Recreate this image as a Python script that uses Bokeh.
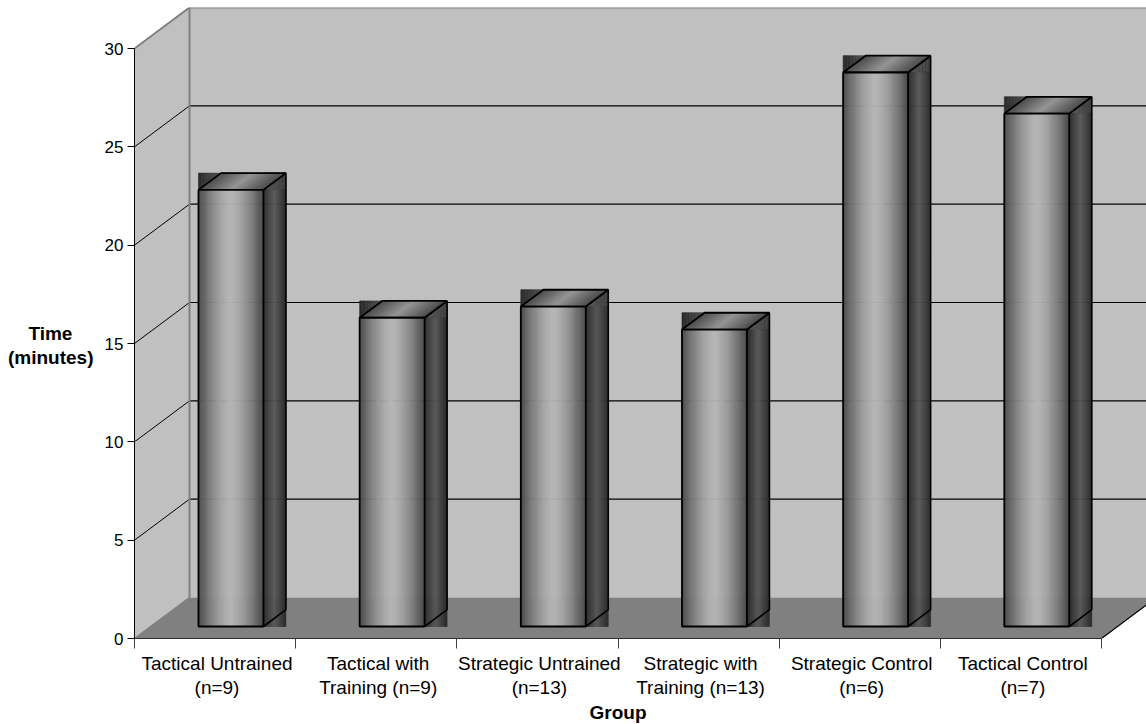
from bokeh.plotting import figure
from bokeh.models import Range1d, LinearAxis, FixedTicker
from bokeh.embed import file_html
from bokeh.resources import INLINE

# ---- data ----
groups_line1 = ["Tactical Untrained", "Tactical with", "Strategic Untrained", "Strategic with", "Strategic Control", "Tactical Control"]
groups_line2 = ["(n=9)", "Training (n=9)", "(n=13)", "Training (n=13)", "(n=6)", "(n=7)"]
times = [22.2, 15.7, 16.27, 15.1, 28.17, 26.08]
y_ticks = [0, 5, 10, 15, 20, 25, 30]

# ---- projection ----
N = len(times)
YMAX = 30
WALL_DX, WALL_DY = 0.3413, 2.085     # depth of the box in data units
BAR_W = 0.403
BAR_DX, BAR_DY = 0.1396, 0.854       # depth of a bar
OFF_X, OFF_Y = 0.397, 0.61           # front-left-bottom of bar in its slot
STRIPS = 60

FONT = "Liberation Sans"
FRAME_LEFT, FRAME_TOP, FRAME_W, FRAME_H = 134, 7, 1012, 631

p = figure(frame_width=FRAME_W, frame_height=FRAME_H, output_backend="svg", toolbar_location=None,
           x_range=Range1d(0, 6 * FRAME_W / 967), y_range=Range1d(0, YMAX * FRAME_H / 590),
           x_axis_type=None, y_axis_type=None,
           min_border_left=FRAME_LEFT, min_border_right=0, min_border_top=FRAME_TOP, min_border_bottom=0,
           outline_line_color=None, background_fill_color="white")
p.grid.visible = False

WALL = "#C0C0C0"
FLOOR = "#808080"
EDGE = "#808080"
GRID = "#000000"

# walls and floor
xe = p.x_range.end
top = p.y_range.end
p.patch([WALL_DX, xe, xe, WALL_DX], [WALL_DY, WALL_DY, top, top], fill_color=WALL, line_color=None)
p.patch([0, WALL_DX, WALL_DX, 0], [0, WALL_DY, YMAX + WALL_DY, YMAX], fill_color=WALL, line_color=None)
p.patch([0, N, N + WALL_DX, WALL_DX], [0, 0, WALL_DY, WALL_DY], fill_color=FLOOR, line_color=None)

# gridlines
gy = y_ticks[1:-1]
p.segment([WALL_DX] * len(gy), [t + WALL_DY for t in gy], [N + WALL_DX] * len(gy), [t + WALL_DY for t in gy],
          line_color=GRID, line_width=1.1)
p.segment([0] * len(gy), gy, [WALL_DX] * len(gy), [t + WALL_DY for t in gy], line_color=GRID, line_width=1)
p.segment([N], [0], [N + WALL_DX], [WALL_DY], line_color=GRID, line_width=1.2)

# wall edges
p.line([0, WALL_DX, WALL_DX], [YMAX, YMAX + WALL_DY, WALL_DY], line_color=EDGE, line_width=2)
p.line([WALL_DX, xe], [YMAX + WALL_DY, YMAX + WALL_DY], line_color=EDGE, line_width=2)
p.line([0, WALL_DX], [0, WALL_DY], line_color=EDGE, line_width=1.5)


def ramp(u, lo, hi, lo2=None, power=1.0):
    lo2 = lo if lo2 is None else lo2
    t = abs(2 * u - 1) ** power
    end = lo if u < 0.5 else lo2
    g = int(round(hi - (hi - end) * t))
    return "#%02x%02x%02x" % (g, g, g)


for i, v in enumerate(times):
    x0 = i + OFF_X
    x1 = x0 + BAR_W
    yb = OFF_Y
    yt = OFF_Y + v
    # rectangle behind the top face
    n = STRIPS
    w = (BAR_W + BAR_DX) / n
    xs = [x0 + k * w for k in range(n)]
    cols = [ramp((k + .5) / n, 40, 120, 60) for k in range(n)]
    p.quad(left=xs, right=[a + w for a in xs], bottom=[yt] * n, top=[yt + BAR_DY] * n,
           fill_color=cols, line_color=cols, line_width=0.6)
    # side panel
    n = 22
    w = BAR_DX / n
    xs = [x1 + k * w for k in range(n)]
    cols = [ramp((k + .5) / n, 42, 88, 42) for k in range(n)]
    p.quad(left=xs, right=[a + w for a in xs], bottom=[yb] * n, top=[yt] * n,
           fill_color=cols, line_color=cols, line_width=0.6)
    p.line([x1, x1 + BAR_DX, x1 + BAR_DX, x1], [yb, yb + BAR_DY, yt + BAR_DY, yt], line_color="black", line_width=1.6)
    # top face
    n = STRIPS
    w = BAR_W / n
    pxs = [[x0 + k * w, x0 + (k + 1) * w, x0 + (k + 1) * w + BAR_DX, x0 + k * w + BAR_DX] for k in range(n)]
    pys = [[yt, yt, yt + BAR_DY, yt + BAR_DY] for k in range(n)]
    cols = [ramp((k + .5) / n, 76, 150, 76) for k in range(n)]
    p.patches(pxs, pys, fill_color=cols, line_color=cols, line_width=0.6)
    p.patch([x0, x1, x1 + BAR_DX, x0 + BAR_DX], [yt, yt, yt + BAR_DY, yt + BAR_DY],
            fill_color=None, line_color="black", line_width=1.8)
    # front face
    n = STRIPS
    w = BAR_W / n
    xs = [x0 + k * w for k in range(n)]
    cols = [ramp((k + .5) / n, 72, 182, 72, power=1.5) for k in range(n)]
    p.quad(left=xs, right=[a + w for a in xs], bottom=[yb] * n, top=[yt] * n,
           fill_color=cols, line_color=cols, line_width=0.6)
    p.quad(left=[x0], right=[x1], bottom=[yb], top=[yt], fill_color=None, line_color="black", line_width=1.8)

# axes
yax = LinearAxis(ticker=FixedTicker(ticks=y_ticks), bounds=(0, YMAX),
                 major_label_text_font=FONT, major_label_text_font_size="17px",
                 major_label_text_color="black", major_label_standoff=4,
                 major_tick_out=7, major_tick_in=0, minor_tick_out=0, minor_tick_in=0,
                 major_tick_line_color="black", axis_line_color="black", axis_line_width=1)
p.add_layout(yax, "left")

# the vertical axis title, as a second axis placed beyond the tick labels
title_pos = [15.51, 14.29]
title_text = ["Time\u00a0\u00a0\u00a0\u00a0", "(minutes)"]
yax_title = LinearAxis(ticker=FixedTicker(ticks=title_pos), bounds=(0, YMAX),
                       major_label_overrides={c: t for c, t in zip(title_pos, title_text)},
                       major_label_text_font=FONT, major_label_text_font_size="19px",
                       major_label_text_font_style="bold", major_label_text_color="black",
                       major_label_standoff=8,
                       major_tick_out=0, major_tick_in=0, major_tick_line_color=None,
                       minor_tick_out=0, minor_tick_in=0, axis_line_color=None)
p.add_layout(yax_title, "left")

edges = list(range(N + 1))
centers = [i + 0.512 for i in range(N)]
xax1 = LinearAxis(ticker=FixedTicker(ticks=centers, minor_ticks=edges), bounds=(0, N),
                  major_label_overrides={c: t for c, t in zip(centers, groups_line1)},
                  major_label_text_font=FONT, major_label_text_font_size="19px",
                  major_label_text_color="black", major_label_standoff=4,
                  major_tick_out=0, major_tick_in=0, major_tick_line_color=None,
                  minor_tick_out=10, minor_tick_in=0, minor_tick_line_color="#404040",
                  axis_line_color="#303030", axis_line_width=1.2)
p.add_layout(xax1, "below")
xax2 = LinearAxis(ticker=FixedTicker(ticks=centers), bounds=(0, N),
                  major_label_overrides={c: t for c, t in zip(centers, groups_line2)},
                  major_label_text_font=FONT, major_label_text_font_size="19px",
                  major_label_text_color="black", major_label_standoff=0,
                  major_tick_out=0, major_tick_in=0, major_tick_line_color=None,
                  minor_tick_out=0, minor_tick_in=0, axis_line_color=None)
p.add_layout(xax2, "below")
mid = N / 2
xax3 = LinearAxis(ticker=FixedTicker(ticks=[mid]), bounds=(0, N),
                  major_label_overrides={mid: "Group"},
                  major_label_text_font=FONT, major_label_text_font_size="19px",
                  major_label_text_font_style="bold", major_label_text_color="black",
                  major_label_standoff=1,
                  major_tick_out=0, major_tick_in=0, major_tick_line_color=None,
                  minor_tick_out=0, minor_tick_in=0, axis_line_color=None)
p.add_layout(xax3, "below")

open("out.html", "w").write(file_html(p, INLINE))
